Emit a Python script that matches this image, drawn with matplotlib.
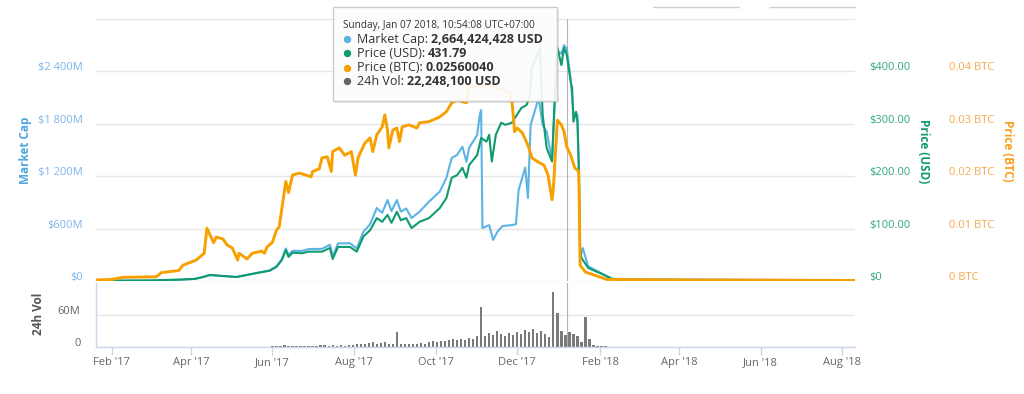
import matplotlib
matplotlib.use('Agg')
import matplotlib.pyplot as plt
import matplotlib.dates as mdates
import pandas as pd
import numpy as np
from matplotlib.transforms import ScaledTranslation
from matplotlib.patches import Rectangle

plt.rcParams['font.family'] = ['Open Sans', 'DejaVu Sans']

# ---------------- data ----------------
btc_dates = ["2017-01-20", "2017-02-01", "2017-02-09", "2017-03-06", "2017-03-10", "2017-03-23",
             "2017-03-26", "2017-04-05", "2017-04-11", "2017-04-13", "2017-04-18", "2017-04-20",
             "2017-04-25", "2017-04-28", "2017-05-02", "2017-05-06", "2017-05-07", "2017-05-13",
             "2017-05-17", "2017-05-24", "2017-05-26", "2017-05-28", "2017-06-01", "2017-06-04",
             "2017-06-06", "2017-06-11", "2017-06-13", "2017-06-16", "2017-06-21", "2017-06-30",
             "2017-07-01", "2017-07-06", "2017-07-08", "2017-07-12", "2017-07-15", "2017-07-16",
             "2017-07-21", "2017-07-25", "2017-07-30", "2017-08-02", "2017-08-04", "2017-08-09",
             "2017-08-13", "2017-08-15", "2017-08-18", "2017-08-22", "2017-08-24", "2017-08-26",
             "2017-08-27", "2017-08-30", "2017-09-02", "2017-09-04", "2017-09-06", "2017-09-11",
             "2017-09-17", "2017-09-19", "2017-09-26", "2017-10-04", "2017-10-09", "2017-10-13",
             "2017-10-17", "2017-10-24", "2017-10-26", "2017-11-10", "2017-11-25", "2017-11-27",
             "2017-11-28", "2017-11-29", "2017-12-01", "2017-12-05", "2017-12-09", "2017-12-12",
             "2017-12-16", "2017-12-21", "2017-12-24", "2017-12-27", "2017-12-28", "2017-12-31",
             "2018-01-03", "2018-01-05", "2018-01-07", "2018-01-10", "2018-01-13", "2018-01-16",
             "2018-01-17", "2018-01-21", "2018-02-06", "2018-04-01", "2018-08-10"]
btc_values = [0.0002, 0.0003, 0.0007, 0.0008, 0.0016, 0.0020,
              0.0030, 0.0040, 0.0053, 0.0101, 0.0073, 0.0084,
              0.0080, 0.0069, 0.0063, 0.0040, 0.0053, 0.0042,
              0.0053, 0.0057, 0.0053, 0.0065, 0.0074, 0.0097,
              0.0103, 0.0190, 0.0169, 0.0202, 0.0206, 0.0199,
              0.0209, 0.0214, 0.0235, 0.0237, 0.0209, 0.0247,
              0.0254, 0.0240, 0.0247, 0.0202, 0.0235, 0.0263,
              0.0273, 0.0247, 0.0279, 0.0294, 0.0317, 0.0288,
              0.0254, 0.0288, 0.0292, 0.0266, 0.0294, 0.0298,
              0.0292, 0.0302, 0.0304, 0.0313, 0.0323, 0.0340,
              0.0345, 0.0340, 0.0370, 0.0375, 0.0360, 0.0342,
              0.0317, 0.0285, 0.0292, 0.0282, 0.0259, 0.0235,
              0.0228, 0.0221, 0.0202, 0.0155, 0.0177, 0.0307,
              0.0298, 0.0285, 0.0256, 0.0240, 0.0216, 0.0209,
              0.0030, 0.0017, 0.0003, 0.0002, 0.0001]

usd_dates = ["2017-01-20", "2017-03-01", "2017-03-23", "2017-04-04", "2017-04-11", "2017-04-15",
             "2017-05-05", "2017-05-20", "2017-05-30", "2017-06-04", "2017-06-08", "2017-06-11",
             "2017-06-13", "2017-06-16", "2017-06-23", "2017-06-28", "2017-07-08", "2017-07-14",
             "2017-07-16", "2017-07-20", "2017-07-29", "2017-08-03", "2017-08-08", "2017-08-13",
             "2017-08-18", "2017-08-22", "2017-08-26", "2017-08-29", "2017-09-02", "2017-09-05",
             "2017-09-09", "2017-09-13", "2017-09-19", "2017-09-26", "2017-10-04", "2017-10-09",
             "2017-10-13", "2017-10-17", "2017-10-21", "2017-10-24", "2017-10-26", "2017-11-01",
             "2017-11-04", "2017-11-08", "2017-11-10", "2017-11-12", "2017-11-15", "2017-11-19",
             "2017-11-22", "2017-11-27", "2017-11-30", "2017-12-04", "2017-12-08", "2017-12-10",
             "2017-12-12", "2017-12-18", "2017-12-20", "2017-12-23", "2017-12-27", "2017-12-29",
             "2017-12-31", "2018-01-03", "2018-01-05", "2018-01-07", "2018-01-10", "2018-01-11",
             "2018-01-12", "2018-01-14", "2018-01-15", "2018-01-16", "2018-01-17", "2018-01-18",
             "2018-01-23", "2018-02-01", "2018-02-10", "2018-03-10", "2018-08-10"]
usd_values = [0.5, 1.0, 2.5, 4, 8.2, 11.5,
              7.6, 15, 19.7, 27, 40, 59,
              46, 54, 53, 56, 56, 63,
              42, 65, 65, 56, 85, 97,
              120, 113, 126, 111, 132, 116,
              120, 101, 113, 120, 139, 158,
              197, 202, 216, 197, 221, 240,
              273, 266, 279, 228, 279, 302,
              298, 302, 314, 330, 336, 349,
              406, 445, 317, 254, 228, 349,
              445, 412, 445, 431.79, 380, 368,
              304, 323, 304, 221, 63, 44,
              25, 15, 4, 2.5, 1.5]

mcap_dates = ["2017-01-20", "2017-03-01", "2017-03-23", "2017-04-04", "2017-04-11", "2017-04-15",
              "2017-05-05", "2017-05-20", "2017-05-30", "2017-06-04", "2017-06-08", "2017-06-11",
              "2017-06-13", "2017-06-16", "2017-06-23", "2017-06-28", "2017-07-08", "2017-07-14",
              "2017-07-16", "2017-07-20", "2017-07-29", "2017-08-03", "2017-08-08", "2017-08-13",
              "2017-08-18", "2017-08-22", "2017-08-26", "2017-08-29", "2017-09-02", "2017-09-05",
              "2017-09-09", "2017-09-13", "2017-09-19", "2017-09-26", "2017-10-04", "2017-10-09",
              "2017-10-13", "2017-10-17", "2017-10-21", "2017-10-24", "2017-10-26", "2017-11-01",
              "2017-11-03", "2017-11-04", "2017-11-05", "2017-11-10", "2017-11-13", "2017-11-16",
              "2017-11-20", "2017-11-27", "2017-11-30", "2017-12-02", "2017-12-07", "2017-12-09",
              "2017-12-11", "2017-12-17", "2017-12-20", "2017-12-23", "2017-12-27", "2017-12-31",
              "2018-01-03", "2018-01-05", "2018-01-07", "2018-01-10", "2018-01-12", "2018-01-15",
              "2018-01-16", "2018-01-17", "2018-01-19", "2018-01-23", "2018-02-01", "2018-02-10",
              "2018-03-10", "2018-08-10"]
mcap_values_m = [3, 6, 15, 24, 50, 68,
                 46, 92, 122, 168, 250, 372,
                 300, 345, 345, 365, 368, 415,
                 280, 430, 432, 372, 564, 650,
                 836, 780, 927, 800, 927, 794,
                 830, 721, 794, 908, 1022, 1179,
                 1408, 1443, 1538, 1366, 1523, 1672,
                 1901, 1958, 607, 640, 470, 560,
                 630, 640, 650, 1040, 1300, 950,
                 1786, 2096, 1786, 1710, 1385, 2645,
                 2600, 2700, 2664.4, 2300, 1924, 1900,
                 1271, 275, 377, 170, 95, 25,
                 16, 10]

vol_start = "2017-06-01"
vol_values_m = [1, 1.5, 2, 3, 2, 2, 1.5, 2, 1.5, 1.5,
                2, 2, 2.5, 3, 2, 2.5, 2, 3, 2, 3,
                4, 5, 6, 5, 7, 8, 6, 7, 9, 5,
                6, 27, 6, 5, 6, 5, 6, 7, 6, 9,
                10, 8, 11, 10, 12, 15, 12, 14, 13, 17,
                15, 21, 74, 20, 25, 22, 30, 24, 20, 26,
                22, 28, 24, 31, 27, 33, 26, 29, 24, 19,
                103, 63, 30, 22, 27, 24, 21, 9, 56, 15,
                4, 2, 1.5, 1]

mcap_ticks_m = [0, 600, 1200, 1800, 2400, 3000]
mcap_labels = ["$0", "$600M", "$1 200M", "$1 800M", "$2 400M", ""]
usd_ticks = [0, 100, 200, 300, 400, 500]
usd_labels = ["$0", "$100.00", "$200.00", "$300.00", "$400.00", ""]
btc_ticks = [0, 0.01, 0.02, 0.03, 0.04, 0.05]
btc_labels = ["0 BTC", "0.01 BTC", "0.02 BTC", "0.03 BTC", "0.04 BTC", ""]
vol_ticks_m = [0, 60]
vol_labels = ["0", "60M"]

hover_time = "2018-01-07 03:54:08"
tooltip_header = "Sunday, Jan 07 2018, 10:54:08 UTC+07:00"
tooltip_labels = ["Market Cap: ", "Price (USD): ", "Price (BTC): ", "24h Vol: "]
tooltip_values = ["2,664,424,428 USD", "431.79", "0.02560040", "22,248,100 USD"]

# ---------------- style ----------------
C_MC = '#5cb3e6'
C_USD = '#0f9b6e'
C_BTC = '#f7a000'
C_VOL = '#7a7a7a'
GRID = '#e6e6e6'
AXL = '#ccd6eb'

W, H = 1024, 394
fig = plt.figure(figsize=(W / 100, H / 100), dpi=100)


def fx(px):
    return px / W


def fy(py):
    return 1 - py / H


L, R = 96, 855
ax = fig.add_axes([fx(L), fy(281), (R - L) / W, (281 - 19) / H])
axv = fig.add_axes([fx(L), fy(346.7), (R - L) / W, (346.7 - 283) / H])
ax_usd = ax.twinx()
ax_btc = ax.twinx()

mc_d = pd.to_datetime(mcap_dates)
usd_d = pd.to_datetime(usd_dates)
btc_d = pd.to_datetime(btc_dates)
vol_d = pd.date_range(vol_start, periods=len(vol_values_m), freq='3D')

ax.plot(mc_d, np.array(mcap_values_m) * 1e6, color=C_MC, lw=1.5, zorder=3)
ax_usd.plot(usd_d, usd_values, color=C_USD, lw=1.5, zorder=3)
ax_btc.plot(btc_d, btc_values, color=C_BTC, lw=2.1, zorder=3)

axv.bar(vol_d, np.array(vol_values_m) * 1e6, width=1.7, color=C_VOL, align='center', zorder=2)

xmin = pd.Timestamp("2017-01-20 02:00")
xmax = pd.Timestamp("2018-08-10 12:00")
for a in (ax, ax_usd, ax_btc, axv):
    a.set_xlim(xmin, xmax)

# main axes
ax.set_ylim(0, 3000e6)
ax.set_yticks(np.array(mcap_ticks_m) * 1e6)
ax.set_yticklabels(mcap_labels)
ax.grid(axis='y', color=GRID, lw=1)
ax.set_axisbelow(True)
ax.tick_params(axis='y', length=0, pad=9.4, labelcolor='#7cb5ec', labelsize=8)
ax.tick_params(axis='x', bottom=False, labelbottom=False)
for s in ax.spines.values():
    s.set_visible(False)

ax_usd.set_ylim(0, 500)
ax_usd.set_yticks(usd_ticks)
ax_usd.set_yticklabels(usd_labels)
ax_usd.tick_params(axis='y', length=0, pad=10, labelcolor='#33a880', labelsize=8)
ax_btc.set_ylim(0, 0.05)
ax_btc.set_yticks(btc_ticks)
ax_btc.set_yticklabels(btc_labels)
ax_btc.tick_params(axis='y', length=0, pad=67.7, labelcolor='#f8a84a', labelsize=8)
for a in (ax_usd, ax_btc):
    for s in a.spines.values():
        s.set_visible(False)
    a.tick_params(axis='x', bottom=False, labelbottom=False)

# volume axes
axv.set_ylim(0, 120e6)
axv.set_yticks(np.array(vol_ticks_m) * 1e6)
axv.set_yticklabels(vol_labels)
axv.grid(axis='y', color=GRID, lw=1)
axv.set_axisbelow(True)
axv.tick_params(axis='y', length=0, pad=11, labelcolor='#666666', labelsize=8)
axv.xaxis.set_major_locator(mdates.MonthLocator(bymonth=[2, 4, 6, 8, 10, 12]))
axv.xaxis.set_major_formatter(mdates.DateFormatter("%b '%y"))
axv.tick_params(axis='x', length=6, width=1, color=AXL, labelcolor='#666666', labelsize=8, pad=1.5)
for k in ('top', 'right'):
    axv.spines[k].set_visible(False)
for k in ('left', 'bottom'):
    axv.spines[k].set_color(AXL)
    axv.spines[k].set_linewidth(1)


def shift_labels(axis_obj, dy_px):
    off = ScaledTranslation(0, dy_px / 100, fig.dpi_scale_trans)
    for lbl in axis_obj.get_majorticklabels():
        lbl.set_transform(lbl.get_transform() + off)


for a in (ax, ax_usd, ax_btc, axv):
    shift_labels(a.yaxis, 5)

# crosshair
ht = pd.Timestamp(hover_time)
ax.axvline(ht, color='#b5b5b5', lw=0.8, zorder=1)
axv.axvline(ht, color='#b5b5b5', lw=0.8, zorder=1)

# overlay axes in pixel coordinates for annotations
ov = fig.add_axes([0, 0, 1, 1], zorder=10)
ov.set_xlim(0, W)
ov.set_ylim(H, 0)
ov.axis('off')
ov.patch.set_alpha(0)

# axis titles
ov.text(25, 150, 'Market Cap', rotation=90, color='#4ea6e0', fontweight='bold',
        fontsize=8.5, ha='center', va='center')
ov.text(924, 151, 'Price (USD)', rotation=270, color='#0e9a6c', fontweight='bold',
        fontsize=8.5, ha='center', va='center')
ov.text(1007, 151, 'Price (BTC)', rotation=270, color='#f7a01c', fontweight='bold',
        fontsize=8.5, ha='center', va='center')
ov.text(38, 314, '24h Vol', rotation=90, color='#555555', fontweight='bold',
        fontsize=8.5, ha='center', va='center')

# decorative input lines at top right
for x0, x1 in ((653, 739), (770, 855)):
    ov.plot([x0, x1], [7.3, 7.3], color='#d0d0d0', lw=1)

# tooltip
tx0, tx1, ty0, ty1 = 333, 557, 6.7, 101
ov.add_patch(Rectangle((tx0 + 2, ty0 + 2), tx1 - tx0, ty1 - ty0, fc='black', ec='none',
                       alpha=0.08))
ov.add_patch(Rectangle((tx0, ty0), tx1 - tx0, ty1 - ty0, fc='white', ec='#c8c8c8', lw=1,
                       alpha=0.9))
ov.text(343.3, 25, tooltip_header, fontsize=7.2, color='#333333', va='center', ha='left')
row_colors = [C_MC, C_USD, C_BTC, '#666666']
row_y = [39.3, 53.3, 67.7, 81.0]
for lab, val, c, yy in zip(tooltip_labels, tooltip_values, row_colors, row_y):
    ov.plot([346.7], [yy], marker='o', ms=4.3, color=c, lw=0)
    t = ov.text(356.7, yy, lab, fontsize=9, color='#333333', va='center', ha='left')
    ov.annotate(val, xy=(1, 0.5), xycoords=t, va='center', ha='left', fontsize=9,
                fontweight='bold', color='#333333')

fig.savefig('out.png', dpi=100)
